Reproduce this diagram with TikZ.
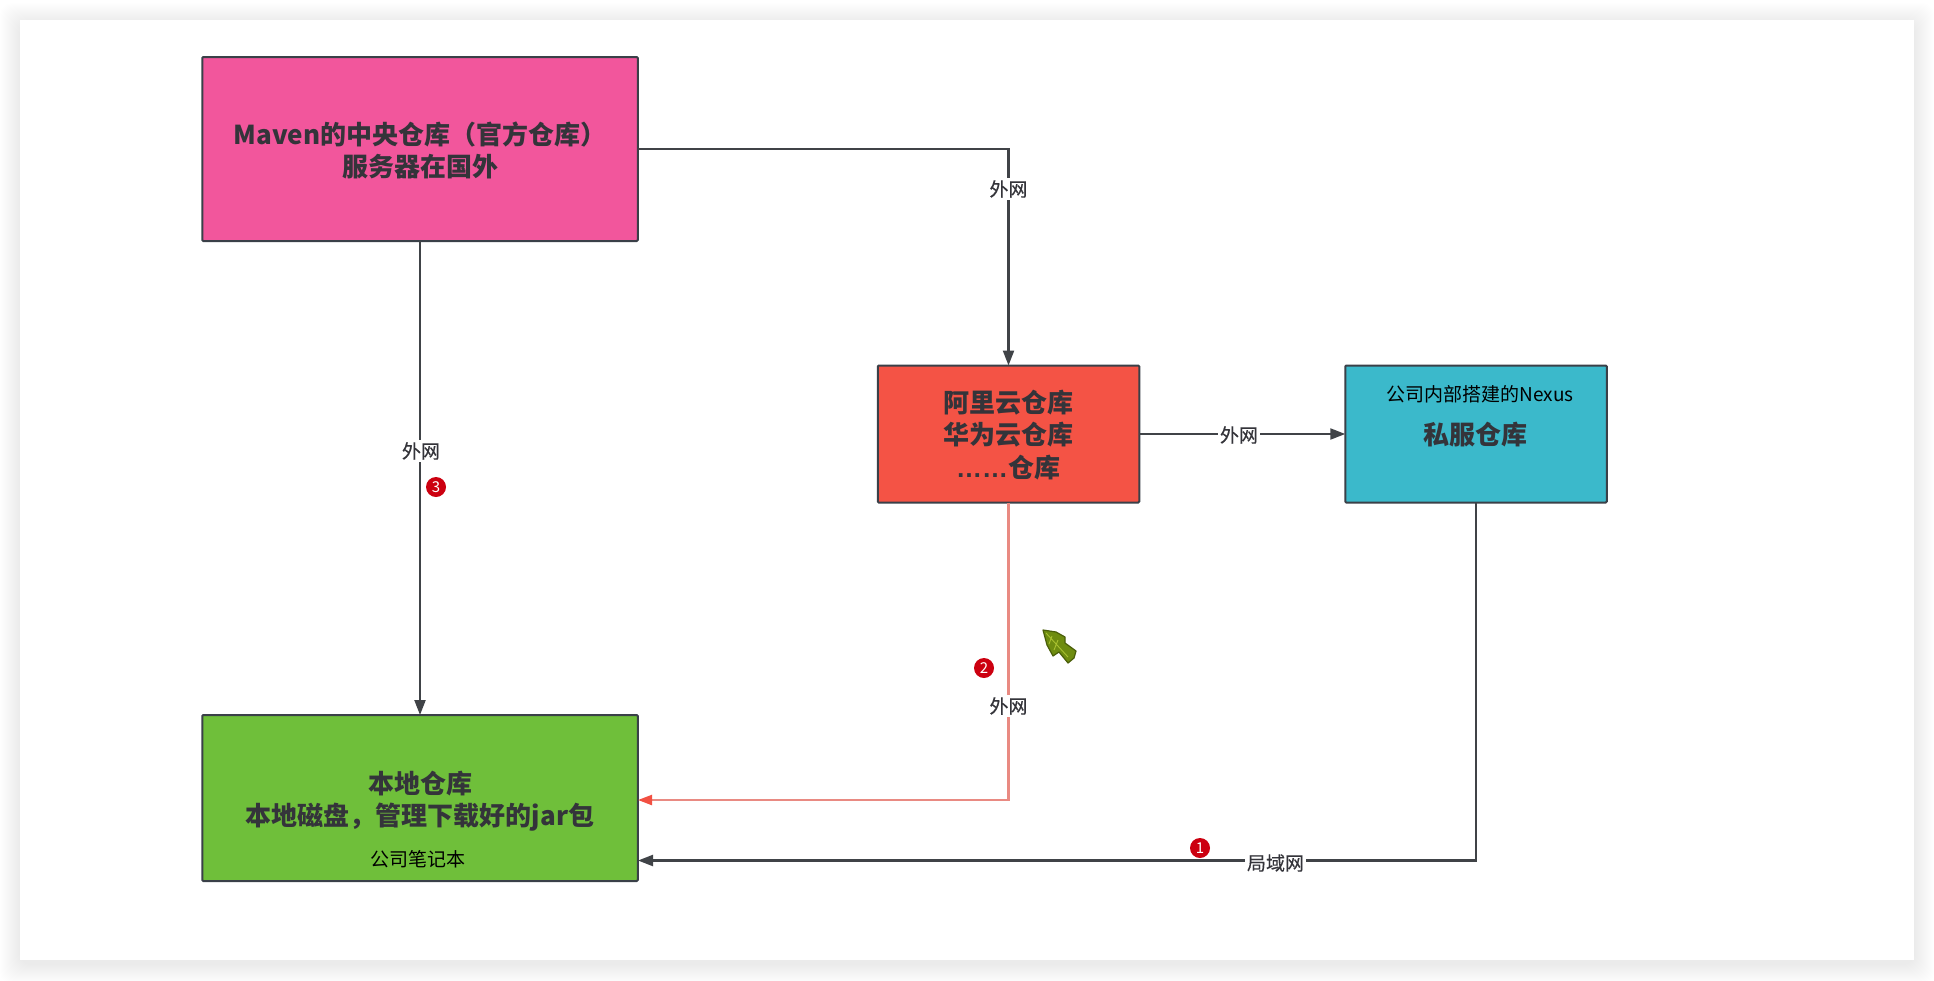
\documentclass[tikz,border=0pt]{standalone}
\usepackage{fontspec}
\setmainfont{Noto Sans CJK SC}
\newfontfamily\dotsfont{Liberation Sans}
\newfontfamily\labelfont{Noto Sans CJK SC}[FakeBold=0.35]
\usetikzlibrary{arrows.meta}
\definecolor{edgegray}{HTML}{404347}
\definecolor{boxline}{HTML}{3A4048}
\definecolor{inktext}{HTML}{34343A}
\definecolor{pinkfill}{HTML}{F2569C}
\definecolor{redfill}{HTML}{F45345}
\definecolor{tealfill}{HTML}{3BB9CB}
\definecolor{greenfill}{HTML}{6FBF3A}
\definecolor{redline}{HTML}{E98A82}
\definecolor{redtip}{HTML}{F25042}
\definecolor{badgered}{HTML}{CC0010}
\definecolor{cursorfill}{HTML}{6E8C10}
\definecolor{cursorline}{HTML}{4A5E0A}
\definecolor{cursorvein}{HTML}{A8C030}
\tikzset{
  x=1pt,y=-1pt,
  boxstyle/.style={draw=boxline,line width=2pt,outer sep=0pt,inner sep=0pt,rounded corners=1pt},
  bigtext/.style={text=inktext,inner sep=0pt,align=center,font=\fontsize{26}{32.5}\selectfont\bfseries},
  smalltext/.style={text=black,inner sep=0pt,font=\fontsize{19}{23}\selectfont},
  edgelabel/.style={fill=white,text=inktext,inner sep=2pt,font=\fontsize{19}{23}\selectfont\labelfont},
  conn/.style={draw=edgegray,line width=2.2pt,-{Triangle[length=15pt,width=11pt]}},
  redconn/.style={draw=redline,line width=2.2pt,-{Triangle[length=14pt,width=10pt,color=redtip]}},
  badge/.style={circle,fill=badgered,text=white,inner sep=0pt,minimum size=20pt,font=\fontsize{15}{15}\selectfont},
}
\begin{document}
\begin{tikzpicture}
\useasboundingbox (0,0) rectangle (1934,980);
% soft shadow of the card
\foreach \d in {1,2,...,20}{
  \fill[black,opacity=0.005,rounded corners=12pt] ({20-\d},{23-\d}) rectangle ({1914+\d},{964+\d});
}
\fill[white] (20,20) rectangle (1914,960);
% boxes
\node[boxstyle,fill=pinkfill,minimum width=435.5pt,minimum height=184pt] (central) at (420,149) {};
\node[boxstyle,fill=redfill,minimum width=261.5pt,minimum height=137pt] (mirror) at (1008.5,434) {};
\node[boxstyle,fill=tealfill,minimum width=261.5pt,minimum height=137pt] (nexus) at (1476,434) {};
\node[boxstyle,fill=greenfill,minimum width=435.5pt,minimum height=166pt] (local) at (420,798) {};
% texts inside boxes
\node[bigtext] (centraltext) at (420,150.5) {Maven的中央仓库（官方仓库）\\服务器在国外};
\node[bigtext] (mirrortext) at (1008,435) {阿里云仓库\\华为云仓库\\{\dotsfont ……}仓库};
\node[smalltext] (nexusnote) at (1480,394.5) {公司内部搭建的Nexus};
\node[bigtext] (nexustitle) at (1475,435) {私服仓库};
\node[bigtext] (localtitle) at (420,801) {本地仓库\\本地磁盘，管理下载好的jar包};
\node[smalltext] (localnote) at (418,859) {公司笔记本};
% connector end points
\coordinate (localMid) at (638,800);
\coordinate (localLow) at (638,860.5);
% connectors
\draw[conn] (central.east) -| (mirror.north);
\draw[conn] (central.south) -- (local.north);
\draw[conn] (mirror.east) -- (nexus.west);
\draw[redconn] (mirror.south) |- (localMid);
\draw[conn] (nexus.south) |- (localLow);
\node[edgelabel] (l1) at (1008.5,189) {外网};
\node[edgelabel] (l2) at (421,451) {外网};
\node[edgelabel] (l3) at (1239,435) {外网};
\node[edgelabel] (l4) at (1008.5,706) {外网};
\node[edgelabel] (l5) at (1275.5,863) {局域网};
% numbered badges
\node[badge] (b1) at (1200,848) {1};
\node[badge] (b2) at (984,668) {2};
\node[badge] (b3) at (436,487) {3};
% cursor mark
\filldraw[fill=cursorfill,draw=cursorline,line width=1.2pt,line join=round]
  (1043,630) -- (1056,632) -- (1065,637) -- (1065,643) -- (1076,651) -- (1074,658) -- (1068,663) -- (1059,652) -- (1053,656) -- (1047,645) -- cycle;
\draw[cursorvein,line width=0.9pt] (1046,633) -- (1068,657) (1052,636) -- (1049,644) (1058,640) -- (1054,650);
\end{tikzpicture}
\end{document}
